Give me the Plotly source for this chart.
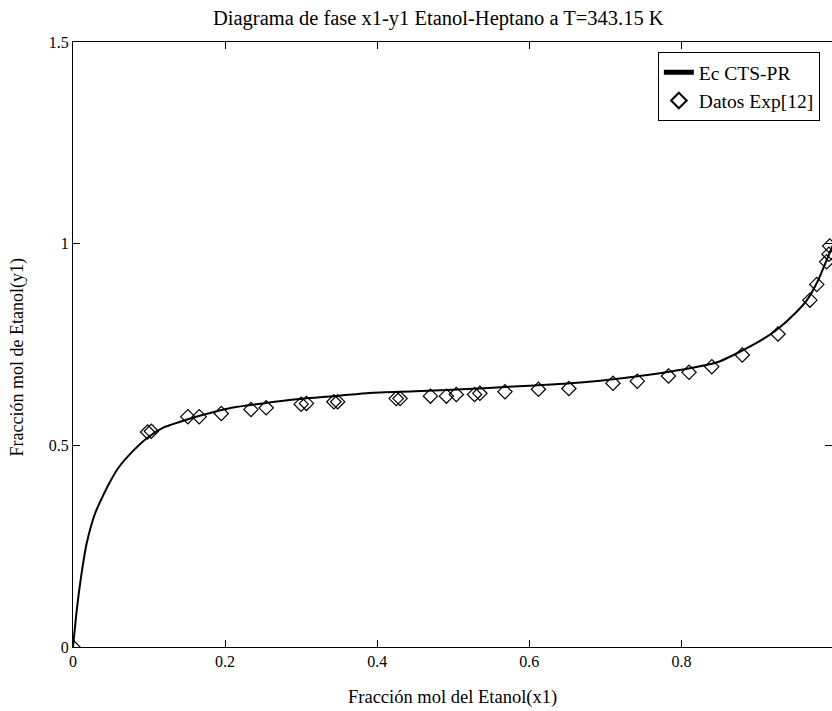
import plotly.graph_objects as go

# Model curve (Ec CTS-PR)
model_x = [0, 0.005, 0.01, 0.018, 0.029, 0.04, 0.05, 0.06, 0.08, 0.10, 0.12, 0.14, 0.17,
           0.206, 0.25, 0.294, 0.35, 0.39, 0.45, 0.50, 0.535, 0.60, 0.65, 0.693, 0.75,
           0.811, 0.85, 0.877, 0.90, 0.925, 0.95, 0.965, 0.98, 0.99, 1.0]
model_y = [0, 0.092, 0.166, 0.257, 0.331, 0.377, 0.414, 0.445, 0.488, 0.522, 0.545, 0.558, 0.575,
           0.592, 0.604, 0.614, 0.623, 0.630, 0.634, 0.638, 0.641, 0.648, 0.653, 0.660, 0.673,
           0.691, 0.708, 0.732, 0.755, 0.786, 0.828, 0.860, 0.910, 0.955, 1.0]

# Experimental data (Datos Exp[12])
exp_x = [0.0, 0.098, 0.103, 0.151, 0.166, 0.195, 0.234, 0.254, 0.300, 0.307, 0.343, 0.348,
         0.425, 0.430, 0.470, 0.491, 0.504, 0.528, 0.535, 0.568, 0.612, 0.652, 0.710,
         0.742, 0.783, 0.810, 0.840, 0.880, 0.927, 0.969, 0.978, 0.991, 0.994, 0.995]
exp_y = [0.0, 0.533, 0.535, 0.571, 0.571, 0.579, 0.589, 0.593, 0.602, 0.604, 0.608, 0.608,
         0.616, 0.616, 0.622, 0.622, 0.626, 0.626, 0.629, 0.633, 0.639, 0.641, 0.654,
         0.659, 0.672, 0.681, 0.695, 0.724, 0.776, 0.860, 0.899, 0.955, 0.974, 0.994]

x_ticks = [0, 0.2, 0.4, 0.6, 0.8]
x_tick_labels = ["0", "0.2", "0.4", "0.6", "0.8"]
y_ticks = [0, 0.5, 1, 1.5]
y_tick_labels = ["0", "0.5", "1", "1.5"]

FONT = "Liberation Serif"

fig = go.Figure()
fig.add_trace(go.Scatter(x=model_x, y=model_y, mode="lines", name="Ec CTS-PR",
                         line=dict(color="black", width=2, shape="spline", smoothing=0.6)))
fig.add_trace(go.Scatter(x=exp_x, y=exp_y, mode="markers", name="Datos Exp[12]",
                         marker=dict(symbol="diamond-open", size=11, color="black",
                                     line=dict(width=1.2, color="black"))))

axis_common = dict(showgrid=False, zeroline=False, showline=True, linecolor="black", linewidth=1,
                   mirror="ticks", ticks="inside", ticklen=7, tickcolor="black", tickwidth=1,
                   tickfont=dict(family=FONT, size=16, color="black"))

fig.update_layout(
    width=832, height=711,
    margin=dict(l=73, r=0, t=42, b=64),
    paper_bgcolor="white", plot_bgcolor="white",
    showlegend=True,
    legend=dict(x=0.984, y=0.9835, xanchor="right", yanchor="top",
                bgcolor="white", bordercolor="black", borderwidth=1,
                font=dict(family=FONT, size=19.5, color="black"),
                tracegroupgap=0, itemsizing="constant"),
    xaxis=dict(range=[0, 0.998], tickvals=x_ticks, ticktext=x_tick_labels, **axis_common),
    yaxis=dict(range=[0, 1.5], tickvals=y_ticks, ticktext=y_tick_labels, **axis_common),
    annotations=[
        dict(text="Diagrama de fase x1-y1 Etanol-Heptano a T=343.15 K", xref="paper", yref="paper",
             x=0.481, y=1, yshift=24, showarrow=False, xanchor="center", yanchor="middle",
             font=dict(family=FONT, size=20.5, color="black")),
        dict(text="Fracción mol del Etanol(x1)", xref="paper", yref="paper",
             x=0.5, y=0, yshift=-50, showarrow=False, xanchor="center", yanchor="middle",
             font=dict(family=FONT, size=18.5, color="black")),
        dict(text="Fracción mol de Etanol(y1)", xref="paper", yref="paper",
             x=0, xshift=-56, y=0.5, yshift=-13, showarrow=False, textangle=-90,
             xanchor="center", yanchor="middle",
             font=dict(family=FONT, size=18, color="black")),
    ],
)

fig.write_html("out.html")
